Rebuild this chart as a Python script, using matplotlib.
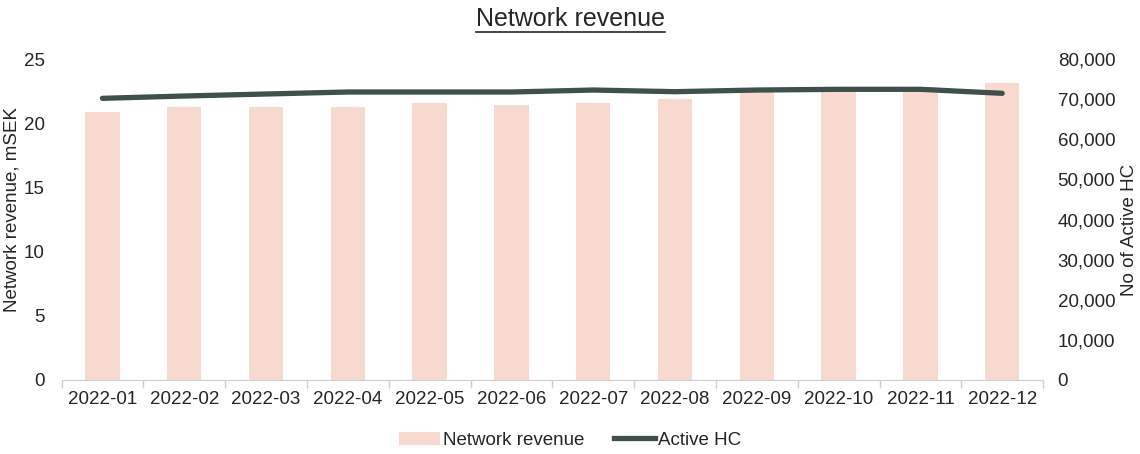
import matplotlib
matplotlib.use("Agg")
import matplotlib.pyplot as plt
from matplotlib.ticker import FuncFormatter, FixedLocator
from matplotlib.lines import Line2D
from matplotlib.patches import Patch

months = ["2022-01", "2022-02", "2022-03", "2022-04", "2022-05", "2022-06",
          "2022-07", "2022-08", "2022-09", "2022-10", "2022-11", "2022-12"]
network_revenue = [20.9, 21.3, 21.3, 21.3, 21.55, 21.4, 21.55, 21.9, 22.45, 22.8, 22.8, 23.1]
active_hc = [70200, 70780, 71280, 71780, 71780, 71780, 72270, 71860, 72270, 72450, 72450, 71450]

bar_color = "#F8D9CF"
line_color = "#3F4F4B"
text_color = "#262626"
fs = 13.5

plt.rcParams['font.family'] = ['Liberation Sans', 'DejaVu Sans']

fig = plt.figure(figsize=(11.4, 4.54), dpi=100)
ax = fig.add_axes([0.054, 0.163, 0.861, 0.707])
x = list(range(len(months)))
ax.bar(x, network_revenue, width=0.42, color=bar_color, zorder=2)
ax.set_xlim(-0.5, len(months) - 0.5)
ax.set_ylim(0, 25)
ax.set_yticks([0, 5, 10, 15, 20, 25])
ax.set_xticks(x)
ax.set_xticklabels(months)
ax.xaxis.set_minor_locator(FixedLocator([i - 0.5 for i in range(len(months) + 1)]))
ax.tick_params(axis='x', which='major', length=0, pad=8, labelsize=fs, labelcolor=text_color)
ax.tick_params(axis='x', which='minor', length=6, color="#D0D0D0", width=1)
ax.tick_params(axis='y', length=0, pad=12, labelsize=fs, labelcolor=text_color)
for s in ['top', 'left', 'right']:
    ax.spines[s].set_visible(False)
ax.spines['bottom'].set_color("#D0D0D0")

ax2 = ax.twinx()
ax2.plot(x, active_hc, color=line_color, linewidth=3.8, solid_capstyle='round', zorder=3)
ax2.set_ylim(0, 80000)
ax2.set_yticks(range(0, 80001, 10000))
ax2.yaxis.set_major_formatter(FuncFormatter(lambda v, p: f"{int(v):,}"))
ax2.tick_params(axis='y', length=0, pad=10.5, labelsize=fs, labelcolor=text_color)
for s in ['top', 'left', 'right', 'bottom']:
    ax2.spines[s].set_visible(False)

W, H = 1140, 454
fig.text(12 / W, 1 - 209 / H, "Network revenue, mSEK", rotation=90, ha='center', va='center',
         fontsize=fs, color=text_color)
fig.text(1129 / W, 1 - 230 / H, "No of Active HC", rotation=90, ha='center', va='center',
         fontsize=fs, color=text_color)

t = fig.text(0.5, 0.958, "Network revenue", ha='center', va='center', fontsize=18, color=text_color)

handles = [Patch(facecolor=bar_color, edgecolor='none'),
           Line2D([0], [0], color=line_color, linewidth=3.8)]
fig.legend(handles, ["Network revenue", "Active HC"], loc='center', bbox_to_anchor=(0.5, 0.03),
           ncol=2, frameon=False, fontsize=fs, handlelength=2.2, handletextpad=0.15,
           columnspacing=1.6, labelcolor=text_color)

fig.canvas.draw()
bb = t.get_window_extent()
y_line = (bb.y0 - 1) / H
fig.add_artist(Line2D([bb.x0 / W, bb.x1 / W], [y_line, y_line], color=text_color, linewidth=1.2,
                      transform=fig.transFigure))

fig.savefig("out.png", dpi=100, facecolor='white')
